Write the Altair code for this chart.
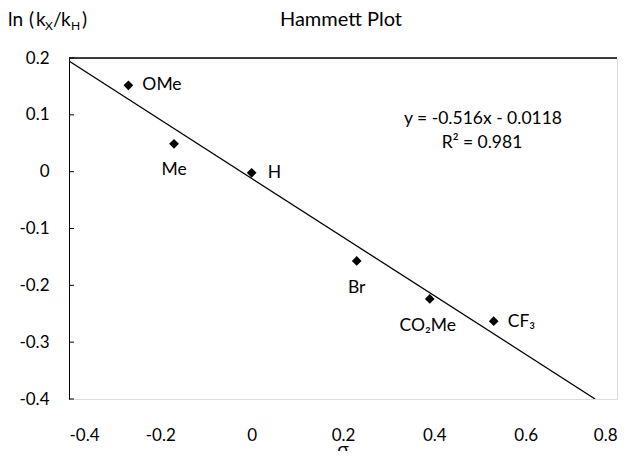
import altair as alt
import pandas as pd

# Data
subst = ["OMe", "Me", "H", "Br", "CO\u2082Me", "CF\u2083"]
sigma = [-0.27, -0.17, 0.0, 0.23, 0.39, 0.53]
ln_ratio = [0.152, 0.049, -0.002, -0.157, -0.224, -0.263]
label_dx = [14, 0, 16, 0, -2, 14]
label_dy = [0, 26, 0, 27, 27, 1]
label_align = ["left", "center", "left", "center", "center", "left"]

trend_x = [-0.4, 0.752]
trend_y = [0.1946, -0.4]

y_ticks = [-0.4, -0.3, -0.2, -0.1, 0.0, 0.1, 0.2]
x_ticks = [-0.4, -0.2, 0.0, 0.2, 0.4, 0.6, 0.8]

FONT = "Lato"

pts = pd.DataFrame({"sigma": sigma, "lnr": ln_ratio, "lab": subst})
trend = pd.DataFrame({"sigma": trend_x, "lnr": trend_y})
yt = pd.DataFrame({"v": y_ticks})
one = pd.DataFrame({"k": [0]})

xsc = alt.Scale(domain=[-0.4, 0.8], nice=False, zero=False)
ysc = alt.Scale(domain=[-0.4, 0.2], nice=False, zero=False)

lab_expr = "datum.value == 0 ? '0' : replace(format(datum.value, '.1f'), '\u2212', '-')"

xax = alt.Axis(values=x_ticks, ticks=False, domain=False, grid=False,
               labelPadding=28, labelFontSize=17, labelFont=FONT, labelColor="black",
               labelExpr=lab_expr, title=None)
yax = alt.Axis(values=y_ticks, ticks=False, domain=True, domainColor="black", domainWidth=1,
               grid=False, labelPadding=20, labelFontSize=17, labelFont=FONT, labelColor="black",
               labelExpr=lab_expr, title=None)

line = alt.Chart(trend).mark_line(color="black", strokeWidth=1.3, clip=True).encode(
    x=alt.X("sigma:Q", scale=xsc, axis=xax),
    y=alt.Y("lnr:Q", scale=ysc, axis=yax),
)

points = alt.Chart(pts).mark_point(shape="diamond", filled=True, color="black",
                                   size=95, opacity=1).encode(
    x=alt.X("sigma:Q", scale=xsc),
    y=alt.Y("lnr:Q", scale=ysc),
)

labels = []
for i in range(len(subst)):
    labels.append(
        alt.Chart(pts.iloc[[i]]).mark_text(
            font=FONT, fontSize=17.5, color="black", align=label_align[i],
            baseline="middle", dx=label_dx[i], dy=label_dy[i]
        ).encode(x=alt.X("sigma:Q", scale=xsc), y=alt.Y("lnr:Q", scale=ysc), text="lab:N")
    )

ticks = alt.Chart(yt).mark_rule(color="black", strokeWidth=1).encode(
    y=alt.Y("v:Q", scale=ysc), x=alt.value(0), x2=alt.value(5)
)

top_line = alt.Chart(one).mark_rule(color="black", strokeWidth=1.3).encode(
    y=alt.value(0), x=alt.value(0), x2=alt.value(548)
)

def txt(s, x, y, size=17, align="left"):
    return alt.Chart(one).mark_text(text=s, font=FONT, fontSize=size, color="black",
                                    align=align, baseline="alphabetic").encode(
        x=alt.value(x), y=alt.value(y))

annots = [
    txt("Hammett Plot", 272, -32, size=20, align="center"),
    txt("y = -0.516x - 0.0118", 414, 66, size=17.5, align="center"),
    txt("R\u00b2 = 0.981", 413, 90, size=17.5, align="center"),
    # y-axis title: ln (kX/kH) with subscripts
    txt("ln", -61, -32, size=19),
    txt("(", -40, -32, size=19),
    txt("k", -33, -32, size=19),
    txt("X", -24, -28, size=12),
    txt("/", -16, -32, size=19),
    txt("k", -8, -32, size=19),
    txt("H", 2, -28, size=12),
    txt(")", 13, -32, size=19),
    # x-axis title (sigma), partly cut off at the bottom as in the reference
    txt("\u03c3", 274, 398, size=19, align="center"),
]

chart = alt.layer(top_line, line, ticks, points, *labels, *annots).properties(
    width=548, height=341,
    padding={"left": 61, "top": 50, "right": 6, "bottom": 52},
    autosize=alt.AutoSizeParams(type="none"),
).configure_view(stroke="#808080", strokeWidth=1).configure(background="white")

chart.save("out.html", embed_options={"renderer": "svg", "actions": False})
